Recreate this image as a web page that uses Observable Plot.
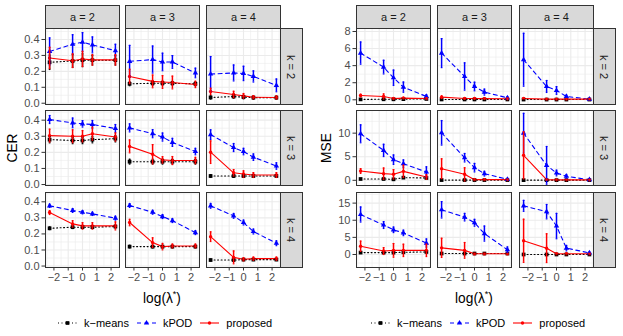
<!DOCTYPE html>
<html><head><meta charset="utf-8">
<script src="https://cdn.jsdelivr.net/npm/d3@7"></script>
<script src="https://cdn.jsdelivr.net/npm/@observablehq/plot@0.6"></script>
<style>
body{margin:0;background:#fff;font-family:"Liberation Sans",Arial,sans-serif;}
#chart{position:relative;width:623px;height:336px;overflow:hidden;background:#fff;}
.strip{position:absolute;background:#d9d9d9;border:1px solid #333;box-sizing:border-box;display:flex;align-items:center;justify-content:center;font-size:11px;color:#1a1a1a;}
.strip.v span{transform:rotate(90deg);white-space:nowrap;display:inline-block;}
.ytitle{position:absolute;font-size:13.75px;color:#000;transform:translate(-50%,-50%) rotate(-90deg);white-space:nowrap;}
.xtitle{position:absolute;font-size:13.75px;color:#000;transform:translate(-50%,-50%);white-space:nowrap;}
.xtitle sup{font-size:9px;vertical-align:6px;line-height:0;}
.legend{position:absolute;display:flex;align-items:center;font-size:11px;color:#000;white-space:nowrap;}
.legend .item{display:flex;align-items:center;margin-right:8px;}
.legend svg{margin-right:7px;display:block;}
#chart svg g[aria-label$="tick"]{stroke:#333;}
</style></head><body><div id="chart"></div>
<script>
// ---------- data ----------
const logLambda = [-2.303, -0.693, 0, 0.693, 2.303];
const aLabels = ["a = 2", "a = 3", "a = 4"];
const kLabels = ["k = 2", "k = 3", "k = 4"];
const methodNames = ["k\u2212means", "kPOD", "proposed"];
const xMajor = [-2, -1, 0, 1, 2];
const xMinor = [-2.5, -1.5, -0.5, 0.5, 1.5, 2.5];

// CER: rows k = 2,3,4 ; columns a = 2,3,4 ; 5 lambda values
const cerKmeansMean = [
  [[0.257,0.265,0.270,0.270,0.270],[0.122,0.125,0.125,0.125,0.122],[0.036,0.042,0.038,0.035,0.035]],
  [[0.279,0.274,0.274,0.279,0.285],[0.142,0.142,0.142,0.142,0.142],[0.053,0.053,0.053,0.053,0.053]],
  [[0.235,0.242,0.242,0.242,0.246],[0.121,0.121,0.121,0.121,0.121],[0.0375,0.0375,0.040,0.040,0.040]]
];
const cerKmeansSd = [
  [[0.045,0.04,0.04,0.03,0.03],[0.012,0.012,0.012,0.012,0.012],[0.01,0.01,0.01,0.01,0.01]],
  [[0.02,0.02,0.02,0.02,0.02],[0.015,0.015,0.015,0.015,0.015],[0.008,0.008,0.008,0.008,0.008]],
  [[0.008,0.008,0.008,0.008,0.008],[0.008,0.008,0.008,0.008,0.008],[0.005,0.005,0.005,0.005,0.005]]
];
const cerKpodMean = [
  [[0.325,0.37,0.383,0.366,0.33],[0.263,0.274,0.259,0.259,0.19],[0.183,0.19,0.187,0.168,0.112]],
  [[0.404,0.383,0.377,0.373,0.348],[0.352,0.316,0.295,0.262,0.205],[0.31,0.23,0.205,0.17,0.115]],
  [[0.375,0.346,0.335,0.325,0.298],[0.377,0.335,0.308,0.283,0.208],[0.375,0.3125,0.271,0.215,0.142]]
];
const cerKpodSd = [
  [[0.085,0.06,0.06,0.05,0.04],[0.1,0.085,0.055,0.04,0.03],[0.11,0.05,0.045,0.035,0.04]],
  [[0.025,0.03,0.02,0.025,0.025],[0.025,0.025,0.025,0.025,0.02],[0.03,0.025,0.02,0.02,0.02]],
  [[0.01,0.012,0.01,0.01,0.012],[0.012,0.012,0.012,0.012,0.012],[0.015,0.015,0.015,0.015,0.015]]
];
const cerPropMean = [
  [[0.284,0.267,0.278,0.272,0.272],[0.168,0.137,0.133,0.13,0.118],[0.074,0.055,0.046,0.038,0.036]],
  [[0.304,0.30,0.30,0.316,0.295],[0.237,0.188,0.153,0.149,0.149],[0.201,0.073,0.065,0.059,0.059]],
  [[0.333,0.2625,0.25,0.25,0.25],[0.271,0.146,0.121,0.125,0.125],[0.183,0.054,0.042,0.046,0.046]]
];
const cerPropSd = [
  [[0.067,0.043,0.048,0.033,0.033],[0.045,0.04,0.04,0.04,0.02],[0.02,0.02,0.015,0.01,0.01]],
  [[0.04,0.04,0.035,0.04,0.025],[0.04,0.06,0.02,0.025,0.02],[0.07,0.02,0.02,0.015,0.015]],
  [[0.012,0.02,0.02,0.02,0.025],[0.02,0.03,0.02,0.012,0.012],[0.03,0.04,0.01,0.01,0.01]]
];

// MSE
const mseKmeansMean = [
  [[0.05,0.06,0.06,0.08,0.1],[0.04,0.04,0.04,0.04,0.04],[0.03,0.03,0.03,0.03,0.03]],
  [[0.28,0.28,0.21,0.56,0.5],[0.05,0.05,0.05,0.05,0.05],[0.03,0.03,0.03,0.03,0.03]],
  [[0.55,0.55,0.55,0.65,0.74],[0.28,0.28,0.28,0.28,0.28],[0.0,0.0,0.0,0.0,0.0]]
];
const mseKmeansSd = [
  [[0.03,0.03,0.03,0.03,0.03],[0.03,0.03,0.03,0.03,0.03],[0.03,0.03,0.03,0.03,0.03]],
  [[0.1,0.1,0.1,0.1,0.1],[0.05,0.05,0.05,0.05,0.05],[0.05,0.05,0.05,0.05,0.05]],
  [[0.2,0.2,0.2,0.2,0.2],[0.1,0.1,0.1,0.1,0.1],[0.05,0.05,0.05,0.05,0.05]]
];
const mseKpodMean = [
  [[5.47,3.83,2.58,1.48,0.39],[5.47,2.73,1.56,0.9,0.23],[4.69,1.56,1.09,0.39,0.08]],
  [[9.86,6.34,4.37,3.52,1.76],[10.07,4.79,2.68,1.41,0.21],[10.0,3.17,1.55,0.85,0.14]],
  [[11.67,8.6,7.2,6.3,3.33],[13.05,10.9,9.26,6.1,1.39],[14.2,12.5,8.3,1.85,0.46]]
];
const mseKpodSd = [
  [[1.3,0.8,0.9,0.6,0.2],[1.7,1.6,0.5,0.35,0.15],[3.1,0.7,0.45,0.15,0.1]],
  [[1.9,1.3,1.0,0.8,1.1],[2.6,0.9,0.9,0.5,0.2],[4.2,4.0,0.6,0.4,0.1]],
  [[2.2,1.0,0.8,0.8,1.2],[2.4,1.1,1.0,2.2,0.8],[1.6,2.1,3.7,0.8,0.3]]
];
const msePropMean = [
  [[0.5,0.39,0.16,0.2,0.16],[0.31,0.16,0.16,0.14,0.12],[0.16,0.08,0.08,0.08,0.08]],
  [[1.97,1.41,1.27,1.9,0.7],[2.46,1.27,0.14,0.14,0.14],[5.3,0.14,0.1,0.1,0.1]],
  [[2.4,1.0,1.2,1.2,1.2],[1.94,1.2,0.2,0.2,0.2],[4.0,1.85,0.2,0.2,0.2]]
];
const msePropSd = [
  [[0.15,0.3,0.1,0.1,0.08],[0.15,0.1,0.1,0.08,0.08],[0.05,0.05,0.05,0.05,0.05]],
  [[0.5,1.2,1.0,1.3,0.5],[2.1,1.4,0.1,0.1,0.1],[5.0,0.1,0.05,0.05,0.05]],
  [[1.5,1.0,2.0,1.8,1.8],[2.8,2.3,0.1,0.1,0.1],[6.3,4.2,0.1,0.1,0.1]]
];

// tick labels / grid values per row
const cerMajor = [0, 0.1, 0.2, 0.3, 0.4];
const cerMinor = [0.05, 0.15, 0.25, 0.35, 0.45];
const mseMajor = [[0, 2, 4, 6, 8], [0, 5, 10], [0, 5, 10, 15]];
const mseMinor = [[1, 3, 5, 7], [2.5, 7.5, 12.5], [-2.5, 2.5, 7.5, 12.5, 17.5]];

// ---------- layout / style ----------
const methodStyle = [
  {color: "#000000", dash: "1,2.5", symbol: "square", r: 2.1},
  {color: "#0000FF", dash: "4,3.5", symbol: "triangle", r: 2.0},
  {color: "#FF0000", dash: null, symbol: "circle", r: 1.7}
];
const rowTop = [28, 110, 192];
const rowH = [76, 75, 75];
const cellW = 74;
const xDomain = [-2.59, 2.59];
const minus = d => (d < 0 ? "\u2212" : "") + Math.abs(d);

const cerPanel = {
  title: "CER", cols: [45, 125, 206], titleX: 12, labelX: 162, legendX: 58,
  means: [cerKmeansMean, cerKpodMean, cerPropMean], sds: [cerKmeansSd, cerKpodSd, cerPropSd],
  yDomains: [[-0.008, 0.469], [-0.006, 0.46], [-0.009, 0.458]],
  major: [cerMajor, cerMajor, cerMajor], minor: [cerMinor, cerMinor, cerMinor],
  fmt: d => d.toFixed(1)
};
const msePanel = {
  title: "MSE", cols: [356, 437, 519], titleX: 326, labelX: 474, legendX: 371,
  means: [mseKmeansMean, mseKpodMean, msePropMean], sds: [mseKmeansSd, mseKpodSd, msePropSd],
  yDomains: [[-0.55, 8.35], [-1.1, 14.8], [-3.8, 18.1]],
  major: mseMajor, minor: mseMinor,
  fmt: d => String(d)
};

const chart = document.getElementById("chart");
const ML = 34, MB = 26, MT = 1, MR = 1;

function drawCell(p, i, j) {
  const series = methodStyle.map((s, m) =>
    logLambda.map((x, t) => ({x, y: p.means[m][i][j][t], sd: p.sds[m][i][j][t]})));
  const marks = [
    Plot.ruleY(p.minor[i], {stroke: "#ebebeb", strokeWidth: 0.6}),
    Plot.ruleX(xMinor, {stroke: "#ebebeb", strokeWidth: 0.6}),
    Plot.ruleY(p.major[i], {stroke: "#ebebeb", strokeWidth: 1.1}),
    Plot.ruleX(xMajor, {stroke: "#ebebeb", strokeWidth: 1.1})
  ];
  series.forEach((data, m) => {
    const s = methodStyle[m];
    marks.push(Plot.line(data, {x: "x", y: "y", stroke: s.color, strokeWidth: 1.1,
      strokeDasharray: s.dash, clip: true}));
  });
  series.forEach((data, m) => {
    const s = methodStyle[m];
    marks.push(Plot.dot(data, {x: "x", y: "y", symbol: s.symbol, fill: s.color, r: s.r, clip: true}));
  });
  series.forEach((data, m) => {
    const s = methodStyle[m];
    marks.push(Plot.ruleX(data, {x: "x", y1: d => d.y - d.sd, y2: d => d.y + d.sd,
      stroke: s.color, strokeWidth: 1.5, clip: true}));
    marks.push(Plot.link(data, {x1: d => d.x - 0.06, x2: d => d.x + 0.06,
      y1: d => d.y + d.sd, y2: d => d.y + d.sd, stroke: s.color, strokeWidth: 1.2, clip: true}));
    marks.push(Plot.link(data, {x1: d => d.x - 0.06, x2: d => d.x + 0.06,
      y1: d => d.y - d.sd, y2: d => d.y - d.sd, stroke: s.color, strokeWidth: 1.2, clip: true}));
  });
  marks.push(Plot.frame({stroke: "#333333", strokeWidth: 1}));

  const h = rowH[i];
  const svg = Plot.plot({
    width: ML + cellW + MR, height: MT + h + MB,
    marginLeft: ML, marginRight: MR, marginTop: MT, marginBottom: MB,
    style: {background: "none", overflow: "visible", fontSize: "11px",
      fontFamily: "'Liberation Sans', Arial, sans-serif", color: "#4d4d4d"},
    x: {domain: xDomain, ticks: xMajor, tickFormat: minus, tickSize: 3.5, tickPadding: 2,
      axis: i === 2 ? "bottom" : null, label: null},
    y: {domain: p.yDomains[i], ticks: p.major[i], tickFormat: p.fmt, tickSize: 3.5, tickPadding: 2.5,
      axis: j === 0 ? "left" : null, label: null},
    marks
  });
  svg.style.position = "absolute";
  svg.style.left = (p.cols[j] - ML) + "px";
  svg.style.top = (rowTop[i] - MT) + "px";
  chart.appendChild(svg);
}

function addDiv(cls, css, html) {
  const d = document.createElement("div");
  d.className = cls;
  Object.assign(d.style, css);
  d.innerHTML = html;
  chart.appendChild(d);
  return d;
}

function keySvg(s) {
  const ns = "http://www.w3.org/2000/svg";
  const svg = document.createElementNS(ns, "svg");
  svg.setAttribute("width", 19); svg.setAttribute("height", 10);
  const line = document.createElementNS(ns, "line");
  line.setAttribute("x1", 0); line.setAttribute("x2", 19);
  line.setAttribute("y1", 5); line.setAttribute("y2", 5);
  line.setAttribute("stroke", s.color); line.setAttribute("stroke-width", 1.1);
  if (s.dash) line.setAttribute("stroke-dasharray", s.dash);
  svg.appendChild(line);
  const sym = document.createElementNS(ns, "path");
  const typ = {square: d3.symbolSquare, triangle: d3.symbolTriangle, circle: d3.symbolCircle}[s.symbol];
  sym.setAttribute("d", d3.symbol(typ, Math.PI * s.r * s.r)());
  sym.setAttribute("transform", "translate(9.5,5)");
  sym.setAttribute("fill", s.color);
  svg.appendChild(sym);
  return svg;
}

function drawPanel(p) {
  for (let i = 0; i < 3; i++) for (let j = 0; j < 3; j++) drawCell(p, i, j);
  aLabels.forEach((lab, j) => addDiv("strip", {left: p.cols[j] + "px", top: "5px",
    width: (cellW + 1) + "px", height: "24px"}, lab));
  kLabels.forEach((lab, i) => addDiv("strip v", {left: (p.cols[2] + cellW) + "px", top: rowTop[i] + "px",
    width: "23px", height: (rowH[i] + 1) + "px"}, "<span>" + lab + "</span>"));
  addDiv("ytitle", {left: p.titleX + "px", top: "148px"}, p.title);
  addDiv("xtitle", {left: p.labelX + "px", top: "298px"}, "log(\u03BB<sup>*</sup>)");
  const leg = addDiv("legend", {left: p.legendX + "px", top: "316px", height: "14px"}, "");
  methodStyle.forEach((s, m) => {
    const it = document.createElement("div");
    it.className = "item";
    it.appendChild(keySvg(s));
    const t = document.createElement("span");
    t.textContent = methodNames[m];
    it.appendChild(t);
    leg.appendChild(it);
  });
}

drawPanel(cerPanel);
drawPanel(msePanel);
</script></body></html>
